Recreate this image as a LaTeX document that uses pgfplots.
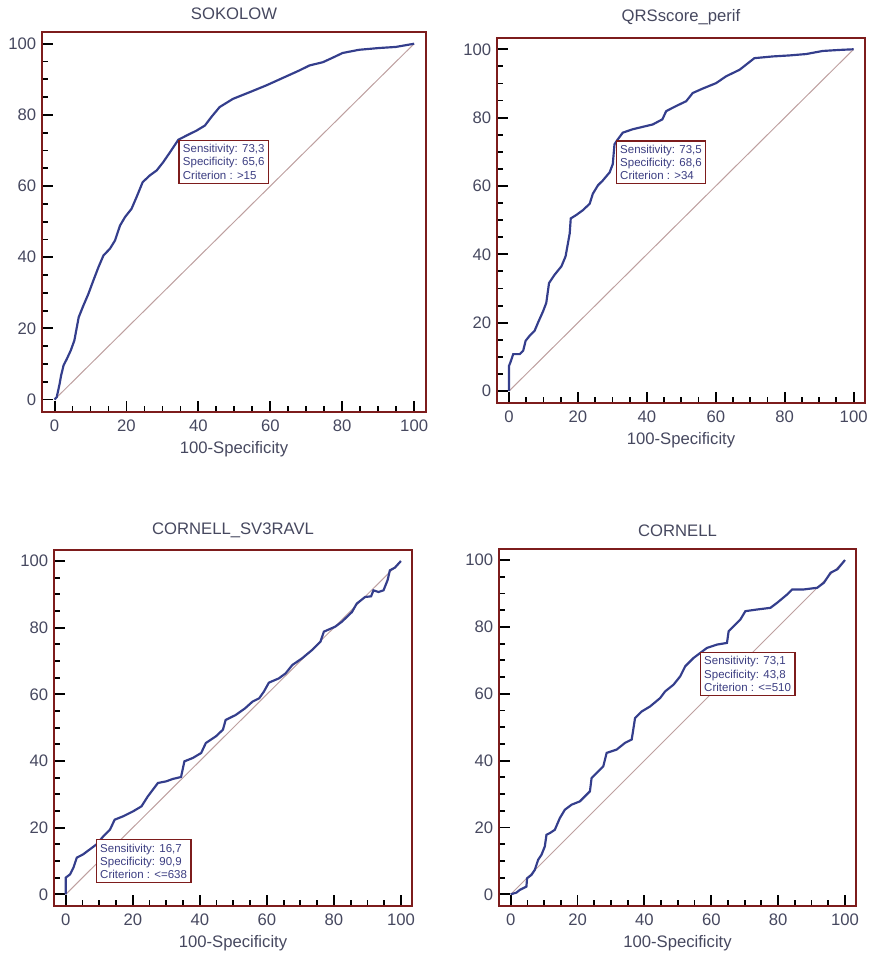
\documentclass[border=0pt]{standalone}
\usepackage{fontspec}
\setmainfont{Liberation Sans}
\usepackage{pgfplots}
\pgfplotsset{compat=1.18}
\definecolor{framered}{RGB}{125,28,28}
\definecolor{curveblue}{RGB}{52,62,140}
\definecolor{diagcol}{RGB}{190,160,160}
\definecolor{labgray}{RGB}{70,72,95}
\definecolor{boxtext}{RGB}{60,62,130}
\tikzset{
  infobox/.style={draw=framered, line width=0.8pt, fill=white, anchor=north west,
    font=\fontsize{6.9}{7.9}\selectfont, text=boxtext, align=left, inner sep=2.4pt},
}
\pgfplotsset{
  rocstyle/.style={
    scale only axis,
    xmin=-3.5, xmax=103.3, ymin=-3.5, ymax=103.3,
    xtick={0,20,...,100}, ytick={0,20,...,100},
    minor tick num=3,
    tick align=inside,
    xtick pos=bottom, ytick pos=left,
    major tick length=6.5pt, minor tick length=3.4pt,
    tick style={black, line width=1.1pt},
    axis line style={draw=framered, line width=1.6pt},
    /pgf/number format/assume math mode=true,
    ticklabel style={font=\fontsize{10}{12}\selectfont, text=labgray},
    xticklabel style={yshift=-1pt},
    title style={font=\fontsize{10}{12}\selectfont, text=labgray, yshift=-2pt},
    xlabel style={font=\fontsize{10}{12}\selectfont, text=labgray, yshift=1pt},
    xlabel={100-Specificity},
    clip=false,
  },
  roc/.style={curveblue, line width=1.3pt},
  diag/.style={diagcol, line width=0.6pt},
}
\begin{document}
\begin{tikzpicture}
\useasboundingbox (0pt,0pt) rectangle (521.4pt,573pt);
% Panel 1
\begin{axis}[rocstyle, at={(25.2pt,325.8pt)}, anchor=south west, width=230.4pt, height=228pt, title={SOKOLOW}]
\addplot[diag] coordinates {(0,0) (100,100)};
\addplot[roc] coordinates {
(0,0) (0.6,0.7) (1.4,4.4) (1.8,6.7) (2.5,9.6) (3.4,11.4) (4.5,13.8) (5.5,16.6) (6.7,23.1)
(8.0,26.4) (9.4,29.7) (10.8,33.5) (12.2,37.2) (13.6,40.5) (15.4,42.4) (16.8,44.7) (18.2,48.9)
(19.6,51.3) (21.4,53.6) (22.8,56.9) (24.5,61.1) (26.5,63.0) (28.4,64.4) (30.2,66.7) (32.1,69.5)
(34.4,73.0) (36.7,74.2) (39.5,75.6) (41.8,77.0) (43.6,79.4) (45.9,82.2) (49.6,84.5) (54.3,86.4)
(58.9,88.3) (63.5,90.4) (68.1,92.5) (70.9,93.9) (74.6,94.8) (77.4,96.1) (80.1,97.4) (84.7,98.3)
(90.3,98.8) (94.9,99.1) (100,100)};
\node[infobox] at (axis cs:34.4,73.0) {Sensitivity: 73,3\\Specificity: 65,6\\Criterion : >15};
\end{axis}
% Panel 2
\begin{axis}[rocstyle, at={(298.2pt,331.2pt)}, anchor=south west, width=220.8pt, height=219pt, title={QRSscore\_perif}]
\addplot[diag] coordinates {(0,0) (100,100)};
\addplot[roc] coordinates {
(0,0) (0,7.4) (0.4,8.4) (1.2,10.8) (3.1,10.8) (4.1,11.8) (4.8,14.7) (6.0,16.2) (7.4,17.6)
(8.4,20.0) (9.9,23.4) (10.8,25.8) (11.6,31.6) (13.2,34.0) (15.2,36.5) (16.4,39.4) (17.6,46.1)
(17.9,50.5) (19.5,51.5) (21.4,52.9) (23.4,54.8) (24.3,57.7) (25.8,60.2) (27.2,61.6) (29.2,64.0)
(30.1,66.4) (30.6,72.2) (31.6,73.7) (33.0,75.6) (35.9,76.6) (38.8,77.3) (41.7,78.0) (44.5,79.5)
(45.6,81.9) (48.5,83.4) (51.4,84.8) (53.3,87.2) (56.2,88.5) (60.1,90.1) (63.0,92.1) (66.9,94.0)
(69.3,95.9) (71.2,97.4) (76.5,97.9) (81.4,98.2) (86.2,98.6) (91.0,99.5) (95.8,99.8) (100,100)};
\node[infobox] at (axis cs:30.9,73.4) {Sensitivity: 73,5\\Specificity: 68,6\\Criterion : >34};
\end{axis}
% Panel 3
\begin{axis}[rocstyle, at={(32.4pt,29.4pt)}, anchor=south west, width=214.8pt, height=213.6pt, title={CORNELL\_SV3RAVL}]
\addplot[diag] coordinates {(0,0) (100,100)};
\addplot[roc] coordinates {
(0,0) (0,5.0) (1.3,6.0) (2.3,8.0) (3.3,11.0) (5.2,12.0) (7.2,13.5) (9.2,15.0) (11.2,17.4)
(13.2,19.4) (14.6,22.4) (17.1,23.4) (20.1,24.9) (22.6,26.4) (24.5,29.4) (27.5,33.4) (30.0,33.9)
(31.9,34.6) (34.4,35.2) (35.4,39.9) (37.9,40.9) (40.4,42.4) (41.8,45.4) (44.8,47.4) (46.9,49.4)
(47.7,52.3) (50.7,53.8) (53.5,55.8) (55.7,57.8) (57.7,58.8) (59.1,60.8) (60.6,63.5) (63.6,64.8)
(65.6,66.3) (67.6,68.8) (70.5,70.8) (73.5,73.3) (76.0,75.8) (77.0,78.8) (80.4,80.3) (82.4,81.8)
(85.4,84.7) (86.8,87.2) (89.3,89.2) (91.1,89.4) (91.8,91.2) (93.3,90.7) (94.8,91.2) (96.0,94.2)
(96.7,97.2) (98.2,98.0) (100,100)};
\node[infobox] at (axis cs:8.9,16.6) {Sensitivity: 16,7\\Specificity: 90,9\\Criterion : <=638};
\end{axis}
% Panel 4
\begin{axis}[rocstyle, at={(299.4pt,29.4pt)}, anchor=south west, width=214.2pt, height=214.2pt, title={CORNELL}]
\addplot[diag] coordinates {(0,0) (100,100)};
\addplot[roc] coordinates {
(0,0) (1.7,0.5) (2.7,1.3) (3.7,1.8) (4.7,2.3) (4.9,4.8) (6.2,5.8) (7.2,7.3) (8.2,10.3) (9.2,11.8)
(10.2,14.3) (10.7,17.8) (11.7,18.3) (13.2,19.3) (14.7,22.8) (16.2,25.3) (18.2,26.8) (20.7,27.8)
(22.2,29.3) (23.7,30.8) (24.2,34.8) (25.7,36.3) (27.7,38.3) (28.7,42.3) (31.7,43.3) (34.2,45.3)
(36.2,46.3) (37.2,52.7) (39.2,54.7) (41.7,56.2) (44.7,58.7) (46.2,60.7) (48.7,62.7) (50.7,65.2)
(52.2,68.2) (54.7,70.7) (56.7,72.2) (58.7,73.7) (61.7,74.7) (64.7,75.2) (65.2,78.7) (67.2,80.7)
(68.7,82.2) (70.2,84.7) (73.7,85.2) (77.7,85.7) (79.7,87.2) (82.7,89.7) (84.2,91.2) (87.7,91.2)
(91.7,91.7) (93.7,93.2) (95.7,96.2) (97.7,97.2) (100,100)};
\node[infobox] at (axis cs:56.5,72.5) {Sensitivity: 73,1\\Specificity: 43,8\\Criterion : <=510};
\end{axis}
\end{tikzpicture}
\end{document}
